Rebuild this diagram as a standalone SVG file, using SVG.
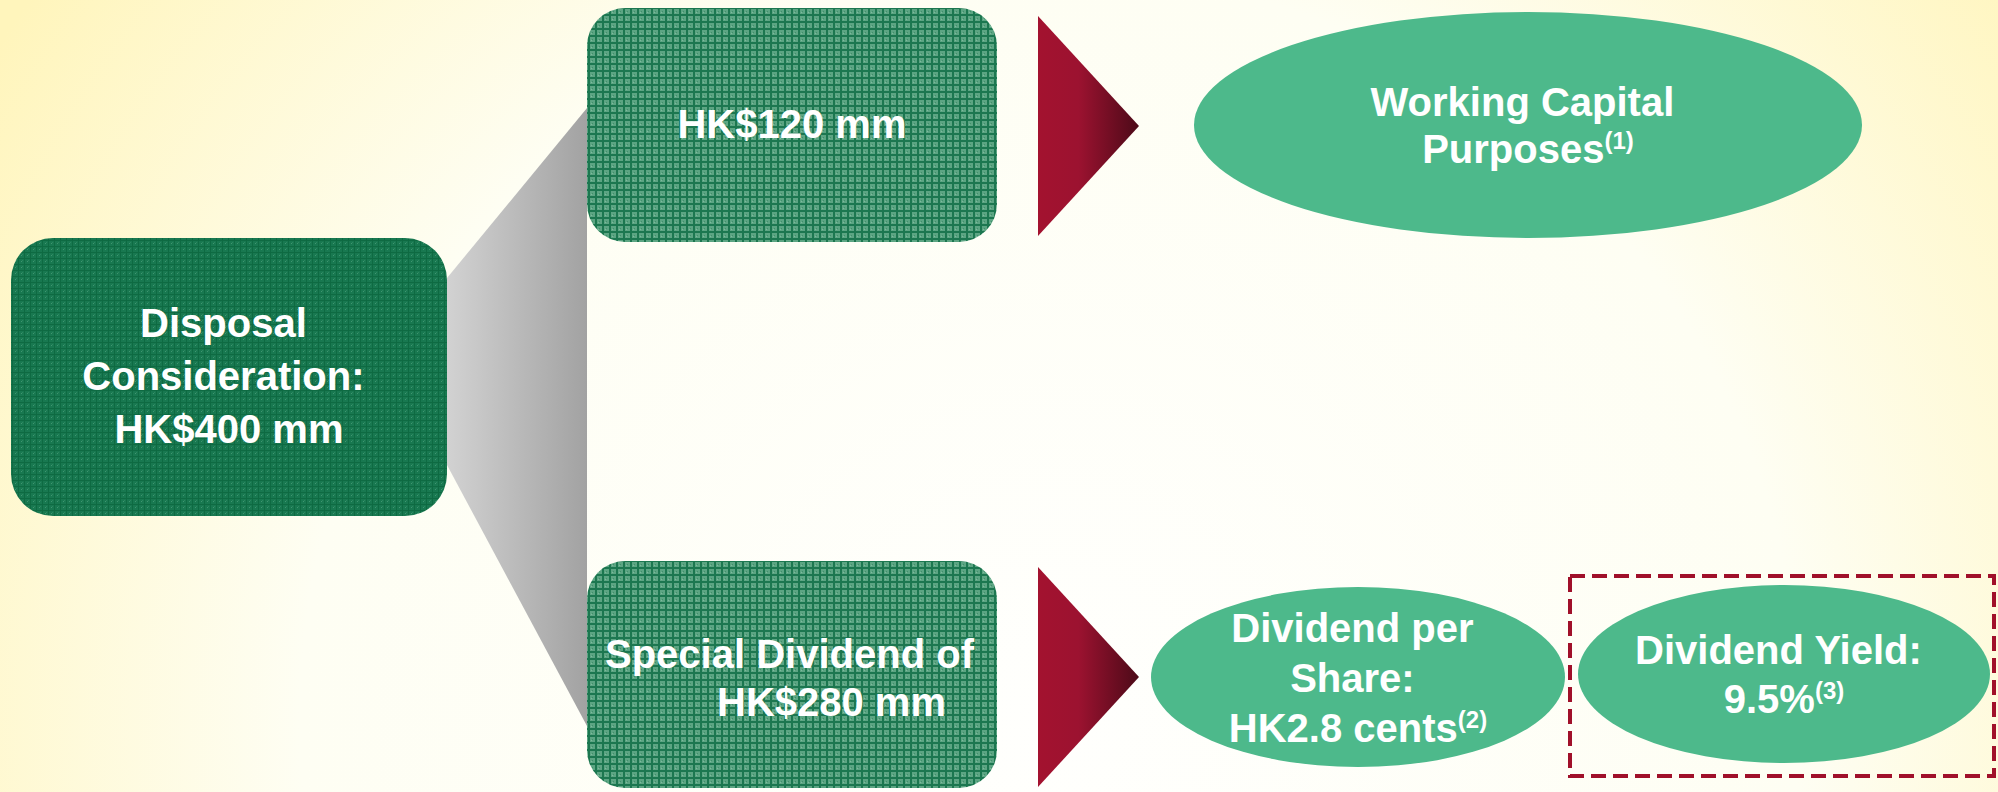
<svg xmlns="http://www.w3.org/2000/svg" width="1998" height="792" viewBox="0 0 1998 792">
  <defs>
    <radialGradient id="bg" gradientUnits="userSpaceOnUse" cx="1050" cy="720" r="1250">
      <stop offset="0" stop-color="#FFFFFD"/>
      <stop offset="0.6" stop-color="#FEFEF3"/>
      <stop offset="1" stop-color="#FFF5BC"/>
    </radialGradient>
    <linearGradient id="grey" x1="0" y1="0" x2="1" y2="0">
      <stop offset="0" stop-color="#D2D2D2"/>
      <stop offset="1" stop-color="#A2A2A2"/>
    </linearGradient>
    <linearGradient id="red" x1="0" y1="0" x2="1" y2="0">
      <stop offset="0" stop-color="#A3122F"/>
      <stop offset="0.4" stop-color="#9C1230"/>
      <stop offset="1" stop-color="#4C0A18"/>
    </linearGradient>
    <pattern id="texDark" width="6" height="6" patternUnits="userSpaceOnUse">
      <rect width="6" height="6" fill="#187850"/>
      <rect x="0" y="0" width="1" height="6" fill="#0E6A42"/>
      <rect x="0" y="0" width="6" height="1" fill="#0E6A42"/>
      <rect x="3" y="3" width="1" height="1" fill="#3F9570"/>
      <rect x="4" y="2" width="1" height="1" fill="#2C8760"/>
    </pattern>
    <pattern id="texLight" width="7" height="7" patternUnits="userSpaceOnUse">
      <rect width="7" height="7" fill="#5CA583"/>
      <rect x="0" y="0" width="2" height="7" fill="#1C7750"/>
      <rect x="0" y="0" width="7" height="2" fill="#1C7750"/>
      <rect x="4" y="4" width="1" height="1" fill="#3F8F6A"/>
      <rect x="3" y="5" width="1" height="1" fill="#7DBB9D"/>
    </pattern>
    <style>
      .t { font-family: "Liberation Sans", Arial, sans-serif; font-weight: bold; font-size: 40px; fill: #FFFFFF; }
      .sup { font-size: 24px; }
      .oval { fill: #4DB98B; }
    </style>
  </defs>

  <rect width="1998" height="792" fill="url(#bg)"/>

  <g id="connectors">
    <polygon points="447,278 587,108 587,726 447,465" fill="url(#grey)"/>
    <polygon points="1038,16 1139,126 1038,236" fill="url(#red)"/>
    <polygon points="1038,567 1139,677 1038,787" fill="url(#red)"/>
  </g>

  <g id="disposal">
    <rect x="11" y="238" width="436" height="278" rx="42" ry="42" fill="url(#texDark)"/>
    <text class="t" text-anchor="middle">
      <tspan x="229" y="337">Disposal</tspan>
      <tspan x="229" y="390">Consideration:</tspan>
      <tspan x="229" y="443">HK$400 mm</tspan>
    </text>
  </g>

  <g id="hk120">
    <rect x="587" y="8" width="410" height="234" rx="38" ry="38" fill="url(#texLight)"/>
    <text class="t" x="792" y="138" text-anchor="middle">HK$120 mm</text>
  </g>

  <g id="special-dividend">
    <rect x="587" y="561" width="410" height="227" rx="38" ry="38" fill="url(#texLight)"/>
    <text class="t">
      <tspan x="605" y="668">Special Dividend of</tspan>
      <tspan x="717" y="716">HK$280 mm</tspan>
    </text>
  </g>

  <g id="working-capital">
    <ellipse class="oval" cx="1528" cy="125" rx="334" ry="113"/>
    <text class="t" text-anchor="middle">
      <tspan x="1528" y="116">Working Capital</tspan>
      <tspan x="1528" y="163">Purposes<tspan class="sup" dy="-14">(1)</tspan></tspan>
    </text>
  </g>

  <g id="dividend-per-share">
    <ellipse class="oval" cx="1358" cy="677" rx="207" ry="90"/>
    <text class="t" text-anchor="middle">
      <tspan x="1358" y="642">Dividend per</tspan>
      <tspan x="1358" y="692">Share:</tspan>
      <tspan x="1358" y="742">HK2.8 cents<tspan class="sup" dy="-14">(2)</tspan></tspan>
    </text>
  </g>

  <g id="dividend-yield-frame">
    <rect x="1570" y="576" width="424" height="200" fill="none" stroke="#A0102A" stroke-width="4" stroke-dasharray="15 7"/>
  </g>

  <g id="dividend-yield">
    <ellipse class="oval" cx="1784" cy="674" rx="206" ry="89"/>
    <text class="t" text-anchor="middle">
      <tspan x="1784" y="664">Dividend Yield:</tspan>
      <tspan x="1784" y="713">9.5%<tspan class="sup" dy="-14">(3)</tspan></tspan>
    </text>
  </g>
</svg>
